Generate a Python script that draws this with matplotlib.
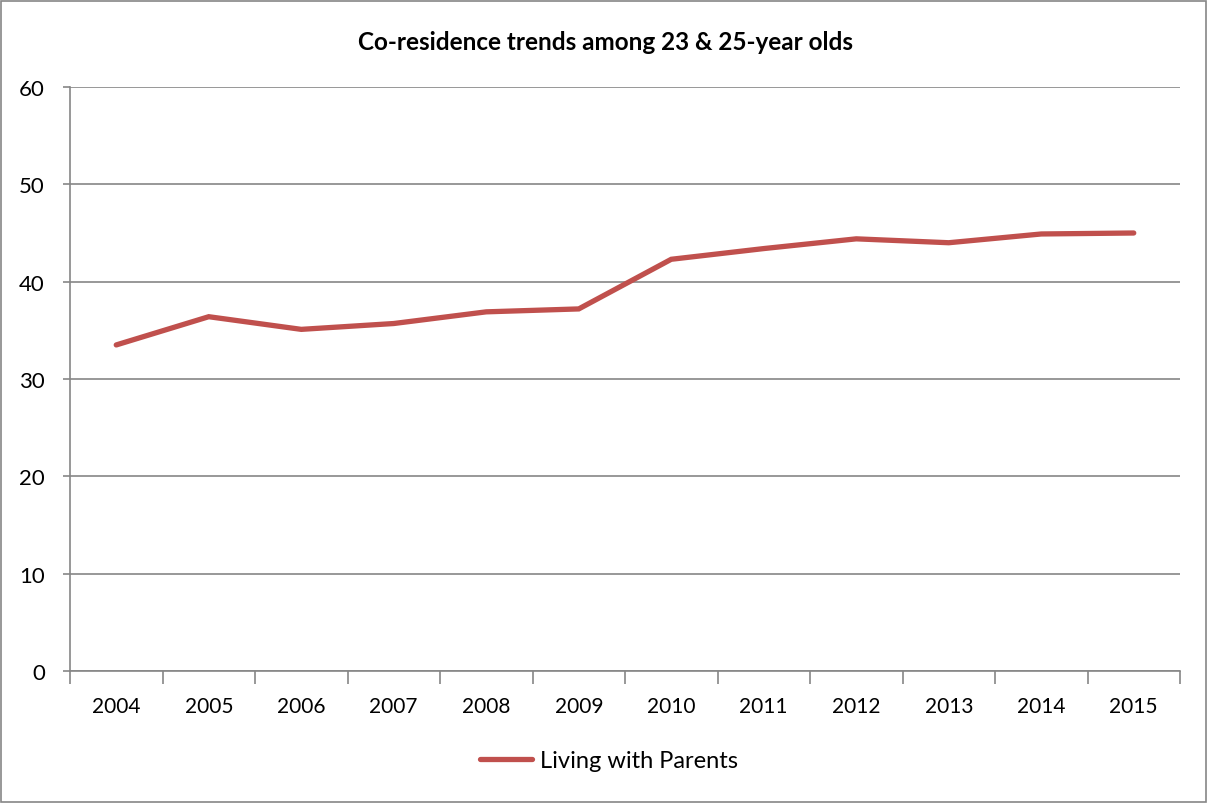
import matplotlib
matplotlib.use("Agg")
import matplotlib.pyplot as plt
import numpy as np

years = ["2004", "2005", "2006", "2007", "2008", "2009",
         "2010", "2011", "2012", "2013", "2014", "2015"]
living_with_parents = [33.5, 36.4, 35.1, 35.7, 36.9, 37.2,
                       42.3, 43.4, 44.4, 44.0, 44.9, 45.0]
title = "Co-residence trends among 23 & 25-year olds"
series_name = "Living with Parents"

plt.rcParams['font.family'] = ['Lato', 'DejaVu Sans']

fig = plt.figure(figsize=(12.08, 8.04), dpi=100)
W, H = 1208, 804
ax = fig.add_axes([70 / W, 1 - 672 / H, (1180 - 70) / W, (672 - 88) / H])

# outer border
fig.patches.append(plt.Rectangle((1 / W, 1 / H), 1 - 3 / W, 1 - 3 / H,
                                 transform=fig.transFigure, fill=False,
                                 edgecolor="#868686", linewidth=1.2))

x = np.arange(len(years))
line, = ax.plot(x, living_with_parents, color="#C0504D", linewidth=3.8,
                solid_capstyle="round", solid_joinstyle="miter", label=series_name)

ax.set_xlim(-0.5, len(years) - 0.5)
ax.set_ylim(0, 60)
ax.set_yticks(np.arange(0, 61, 10))
ax.yaxis.grid(True, color="#868686", linewidth=1.2)
ax.set_axisbelow(True)

ax.set_xticks(x)
ax.set_xticklabels(years)
ax.set_xticks(np.arange(-0.5, len(years), 1), minor=True)
ax.tick_params(axis="x", which="major", length=0, pad=18, labelsize=15)
ax.tick_params(axis="x", which="minor", length=9, width=1.2, color="#868686",
               direction="out")
ax.tick_params(axis="y", length=5, width=1.2, color="#868686", labelsize=16,
               pad=13)

for s in ["top", "right"]:
    ax.spines[s].set_visible(False)
for s in ["left", "bottom"]:
    ax.spines[s].set_color("#868686")
    ax.spines[s].set_linewidth(1.2)

fig.text(605 / W, 1 - 42 / H, title, ha="center", va="center",
         fontsize=17.5, fontweight="bold")

fig.legend(handles=[line], loc="center", bbox_to_anchor=(609 / W, 1 - 762 / H),
           frameon=False, fontsize=17, handlelength=2.2, handletextpad=0.3)

fig.savefig("out.png", dpi=100)
